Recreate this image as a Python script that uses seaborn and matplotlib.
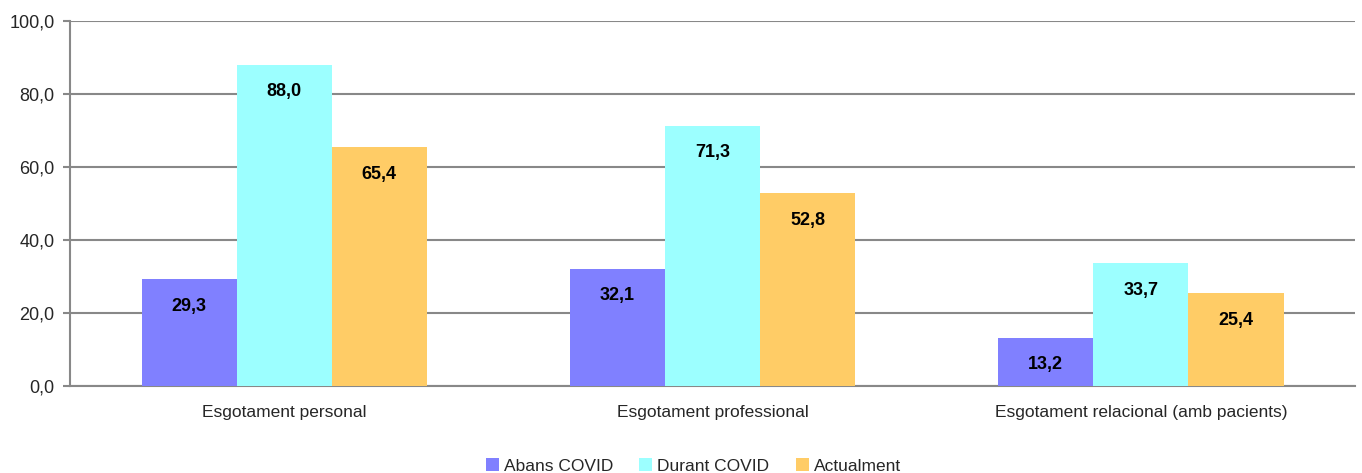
import seaborn as sns
import matplotlib.pyplot as plt
import matplotlib.ticker as mticker
import pandas as pd

# dades
categories = ["Esgotament personal", "Esgotament professional", "Esgotament relacional (amb pacients)"]
series = ["Abans COVID", "Durant COVID", "Actualment"]
abans = [29.3, 32.1, 13.2]
durant = [88.0, 71.3, 33.7]
actualment = [65.4, 52.8, 25.4]
colors = ["#8080FF", "#9CFFFF", "#FFCC66"]

df = pd.DataFrame({
    "cat": categories * 3,
    "serie": [s for s in series for _ in categories],
    "valor": abans + durant + actualment,
})

sns.set_theme(style="white")
plt.rcParams["font.family"] = ["Liberation Sans", "DejaVu Sans"]

fig = plt.figure(figsize=(13.62, 4.73), dpi=100)
ax = fig.add_axes([0.0514, 0.184, 0.9435, 0.7717])

sns.barplot(data=df, x="cat", y="valor", hue="serie", palette=colors,
            width=0.666, saturation=1, linewidth=0, ax=ax, zorder=3)

# etiquetes de valor dins les barres
for cont in ax.containers:
    for bar in cont:
        h = bar.get_height()
        ax.annotate(f"{h:.1f}".replace(".", ","),
                    (bar.get_x() + bar.get_width() / 2, h),
                    xytext=(0, -19.5), textcoords="offset points",
                    ha="center", va="center", fontsize=13, fontweight="bold",
                    color="black", zorder=4)

ax.set_ylim(0, 100)
ax.set_xlim(-0.5, 2.5)
ax.yaxis.set_major_locator(mticker.MultipleLocator(20))
ax.yaxis.set_major_formatter(mticker.FuncFormatter(lambda v, p: f"{v:.1f}".replace(".", ",")))
ax.grid(axis="y", color="#888888", linewidth=1.5, zorder=0)
ax.set_axisbelow(True)

for s in ["top", "right"]:
    ax.spines[s].set_visible(False)
for s in ["left", "bottom"]:
    ax.spines[s].set_color("#888888")
    ax.spines[s].set_linewidth(1.5)

ax.set_xticks([-0.5, 0.5, 1.5, 2.5], minor=True)
ax.tick_params(axis="x", which="major", length=0, pad=14, labelsize=12.5)
ax.tick_params(axis="x", which="minor", length=5, width=1.5, color="#888888", direction="out")
ax.tick_params(axis="y", length=5, width=1.5, color="#888888", direction="out",
               pad=6, labelsize=13, left=True)
ax.set_xlabel("")
ax.set_ylabel("")

leg = ax.legend(loc="upper center", bbox_to_anchor=(0.485, -0.155), ncol=3, frameon=False,
                fontsize=12.5, handlelength=0.75, handleheight=0.75,
                handletextpad=0.3, columnspacing=1.5)

fig.savefig("out.png", dpi=100)
